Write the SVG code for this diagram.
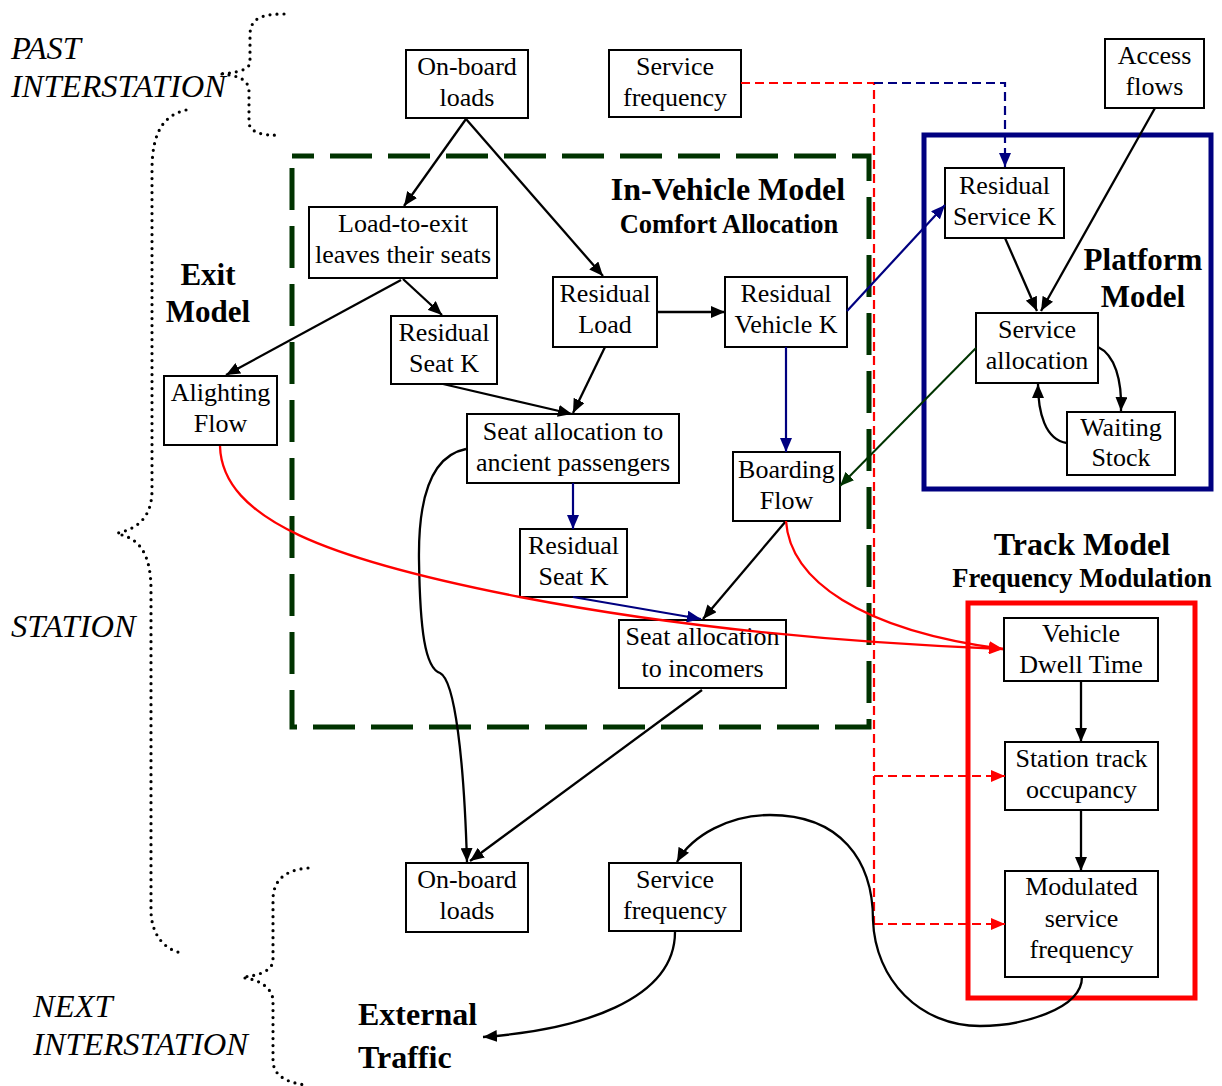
<svg xmlns="http://www.w3.org/2000/svg" width="1222" height="1086" viewBox="0 0 1222 1086">
<style>
.box{fill:#fff;stroke:#000;stroke-width:2}
.t{font-family:"Liberation Serif","Times New Roman",serif;font-size:26px;fill:#000;text-anchor:middle}
.b{font-family:"Liberation Serif","Times New Roman",serif;font-weight:bold;fill:#000;text-anchor:middle}
.bs{font-family:"Liberation Serif","Times New Roman",serif;font-weight:bold;fill:#000;font-size:32px}
.i{font-family:"Liberation Serif","Times New Roman",serif;font-style:italic;font-size:32.5px;fill:#000}
.k{fill:none;stroke:#000;stroke-width:2.3;marker-end:url(#ak)}
.n{fill:none;stroke:#000080;stroke-width:2.2;marker-end:url(#an)}
.g{fill:none;stroke:#003300;stroke-width:2;marker-end:url(#ag)}
.r{fill:none;stroke:#ff0000;stroke-width:2.3;marker-end:url(#ar)}
.rd{fill:none;stroke:#ff0000;stroke-width:2.2;stroke-dasharray:9 5}
.dot{fill:none;stroke:#000;stroke-width:3.2;stroke-linecap:round;stroke-dasharray:0 7}
</style>
<defs>
<marker id="ak" viewBox="0 0 14 12" refX="14" refY="6" markerWidth="14" markerHeight="12" orient="auto" markerUnits="userSpaceOnUse"><path d="M0,0 L14,6 L0,12 z" fill="#000"/></marker>
<marker id="an" viewBox="0 0 14 12" refX="14" refY="6" markerWidth="14" markerHeight="12" orient="auto" markerUnits="userSpaceOnUse"><path d="M0,0 L14,6 L0,12 z" fill="#000080"/></marker>
<marker id="ag" viewBox="0 0 14 12" refX="14" refY="6" markerWidth="14" markerHeight="12" orient="auto" markerUnits="userSpaceOnUse"><path d="M0,0 L14,6 L0,12 z" fill="#003300"/></marker>
<marker id="ar" viewBox="0 0 14 12" refX="14" refY="6" markerWidth="14" markerHeight="12" orient="auto" markerUnits="userSpaceOnUse"><path d="M0,0 L14,6 L0,12 z" fill="#ff0000"/></marker>
</defs>
<rect width="1222" height="1086" fill="#fff"/>

<g id="braces">
<path class="dot" d="M284 14 C262 14 250 18 250 35 L250 62 C250 70 236 73 218 74 M222 74 C240 76 249 80 249 92 L249 122 C249 132 262 136 280 135"/>
<path class="dot" d="M186 110 C165 115 152 130 152 170 L152 490 C152 515 140 528 118 533 M122 535 C140 540 151 555 151 590 L151 910 C151 935 165 950 182 953"/>
<path class="dot" d="M308 868 C285 870 273 880 273 900 L273 960 C273 970 260 976 241 977 M245 978 C260 980 272 988 273 1000 L273 1060 C273 1075 285 1082 305 1085"/>
</g>

<g id="labels">
<text class="i" x="11" y="59">PAST</text>
<text class="i" x="11" y="97">INTERSTATION</text>
<text class="i" x="11" y="637">STATION</text>
<text class="i" x="33" y="1017">NEXT</text>
<text class="i" x="33" y="1055">INTERSTATION</text>
<text class="b" x="208" y="285" font-size="31">Exit</text>
<text class="b" x="208" y="322" font-size="31">Model</text>
<text class="b" x="728" y="200" font-size="32">In-Vehicle Model</text>
<text class="b" x="729" y="233" font-size="26.5">Comfort Allocation</text>
<text class="b" x="1143" y="270" font-size="31">Platform</text>
<text class="b" x="1143" y="307" font-size="31">Model</text>
<text class="b" x="1082" y="555" font-size="32">Track Model</text>
<text class="b" x="1082" y="587" font-size="26.5">Frequency Modulation</text>
<text class="bs" x="358" y="1025">External</text>
<text class="bs" x="358" y="1068">Traffic</text>
</g>

<g id="frames">
<path d="M292 156 H869 V727 H292 Z" fill="none" stroke="#003300" stroke-width="5" stroke-dasharray="42 16" stroke-dashoffset="20"/>
<rect x="924" y="135" width="287" height="354" fill="none" stroke="#000080" stroke-width="5"/>
<rect x="968" y="603" width="227" height="395" fill="none" stroke="#ff0000" stroke-width="5"/>
</g>

<g id="n-onboard-top"><rect class="box" x="406" y="50" width="122" height="68"/><text class="t" x="467" y="75">On-board</text><text class="t" x="467" y="106">loads</text></g>
<g id="n-servfreq-top"><rect class="box" x="609" y="50" width="132" height="67"/><text class="t" x="675" y="75">Service</text><text class="t" x="675" y="106">frequency</text></g>
<g id="n-access"><rect class="box" x="1105" y="39" width="99" height="69"/><text class="t" x="1154.5" y="64">Access</text><text class="t" x="1154.5" y="95">flows</text></g>
<g id="n-load-to-exit"><rect class="box" x="309" y="207" width="188" height="71"/><text class="t" x="403" y="232">Load-to-exit</text><text class="t" x="403" y="263">leaves their seats</text></g>
<g id="n-residual-load"><rect class="box" x="553" y="277" width="104" height="70"/><text class="t" x="605" y="302">Residual</text><text class="t" x="605" y="333">Load</text></g>
<g id="n-residual-vehicle"><rect class="box" x="725" y="277" width="122" height="70"/><text class="t" x="786" y="302">Residual</text><text class="t" x="786" y="333">Vehicle K</text></g>
<g id="n-residual-seat1"><rect class="box" x="391" y="316" width="106" height="68"/><text class="t" x="444" y="341">Residual</text><text class="t" x="444" y="372">Seat K</text></g>
<g id="n-alighting"><rect class="box" x="164" y="376" width="113" height="69"/><text class="t" x="220.5" y="401">Alighting</text><text class="t" x="220.5" y="432">Flow</text></g>
<g id="n-seat-ancient"><rect class="box" x="467" y="414" width="212" height="69"/><text class="t" x="573" y="440">Seat allocation to</text><text class="t" x="573" y="471">ancient passengers</text></g>
<g id="n-boarding"><rect class="box" x="733" y="452" width="107" height="69"/><text class="t" x="786.5" y="478">Boarding</text><text class="t" x="786.5" y="509">Flow</text></g>
<g id="n-residual-seat2"><rect class="box" x="520" y="529" width="107" height="68"/><text class="t" x="573.5" y="554">Residual</text><text class="t" x="573.5" y="585">Seat K</text></g>
<g id="n-seat-incomers"><rect class="box" x="619" y="620" width="167" height="68"/><text class="t" x="702.5" y="645">Seat allocation</text><text class="t" x="702.5" y="677">to incomers</text></g>
<g id="n-onboard-bot"><rect class="box" x="406" y="863" width="122" height="69"/><text class="t" x="467" y="888">On-board</text><text class="t" x="467" y="919">loads</text></g>
<g id="n-servfreq-bot"><rect class="box" x="609" y="863" width="132" height="68"/><text class="t" x="675" y="888">Service</text><text class="t" x="675" y="919">frequency</text></g>
<g id="n-residual-service"><rect class="box" x="945" y="168" width="119" height="70"/><text class="t" x="1004.5" y="194">Residual</text><text class="t" x="1004.5" y="225">Service K</text></g>
<g id="n-service-alloc"><rect class="box" x="976" y="313" width="122" height="70"/><text class="t" x="1037" y="338">Service</text><text class="t" x="1037" y="369">allocation</text></g>
<g id="n-waiting"><rect class="box" x="1067" y="412" width="108" height="63"/><text class="t" x="1121" y="436">Waiting</text><text class="t" x="1121" y="466">Stock</text></g>
<g id="n-dwell"><rect class="box" x="1004" y="618" width="154" height="63"/><text class="t" x="1081" y="642">Vehicle</text><text class="t" x="1081" y="673">Dwell Time</text></g>
<g id="n-track"><rect class="box" x="1005" y="742" width="153" height="68"/><text class="t" x="1081.5" y="767">Station track</text><text class="t" x="1081.5" y="798">occupancy</text></g>
<g id="n-modulated"><rect class="box" x="1005" y="871" width="153" height="106"/><text class="t" x="1081.5" y="895">Modulated</text><text class="t" x="1081.5" y="927">service</text><text class="t" x="1081.5" y="958">frequency</text></g>

<g id="connectors">
<path class="rd" d="M741 83 H874 V924"/>
<path class="rd" d="M874 776 H1005" marker-end="url(#ar)"/>
<path class="rd" d="M874 924 H1005" marker-end="url(#ar)"/>
<path d="M874 83 H1005 V167" fill="none" stroke="#000080" stroke-width="2.2" stroke-dasharray="9 5" marker-end="url(#an)"/>
<path class="k" d="M466 119 L404 206"/>
<path class="k" d="M466 119 L603 276"/>
<path class="k" d="M403 279 L442 315"/>
<path class="k" d="M401 280 L226 375"/>
<path class="k" d="M443 384 L572 414"/>
<path class="k" d="M605 347 L573 413"/>
<path class="k" d="M657 312 L725 312"/>
<path class="n" d="M786 347 L786 452"/>
<path class="n" d="M847 311 L945 205" stroke-width="1.8"/>
<path class="g" d="M976 348 L840 486"/>
<path class="k" d="M1005 238 L1037 311"/>
<path class="k" d="M1155 108 L1041 311"/>
<path class="k" d="M1098 347 C1115 355 1122 380 1121 411"/>
<path class="k" d="M1067 443 C1045 440 1038 412 1038 384"/>
<path class="n" d="M573 483 L573 529"/>
<path class="n" d="M573 597 L701 619"/>
<path class="k" d="M786 521 L703 619"/>
<path class="k" d="M466 449 C435 455 418 490 419 560 C420 630 425 668 440 673 C455 680 464 760 467 862"/>
<path class="k" d="M702 690 L470 861"/>
<path class="r" d="M220 446 C222 520 330 560 520 597 C650 622 800 641 1003 649"/>
<path class="r" d="M786 521 C790 580 860 630 1003 649"/>
<path class="k" d="M1081 681 L1081 742"/>
<path class="k" d="M1081 810 L1081 871"/>
<path class="k" d="M675 932 C675 1000 580 1030 483 1037"/>
<path class="k" d="M1082 977 C1082 1010 1020 1026 980 1026 C920 1026 875 980 873 920 C873 860 840 815 770 815 C730 815 692 835 677 862"/>
</g>
</svg>
